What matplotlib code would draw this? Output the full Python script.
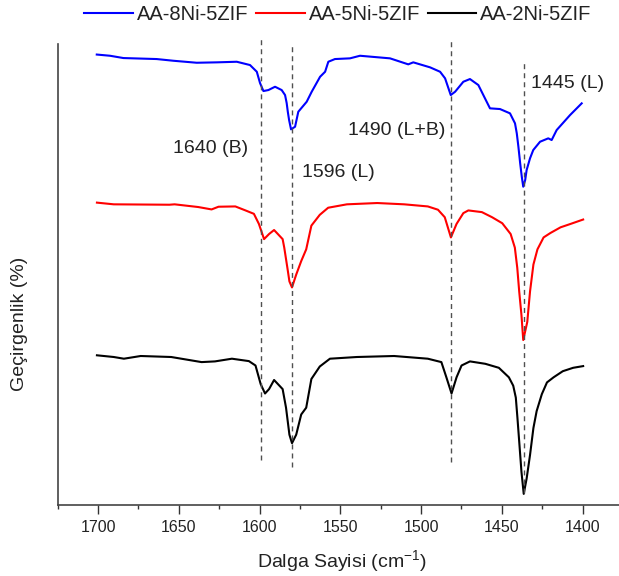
import matplotlib
matplotlib.use("Agg")
import matplotlib.pyplot as plt

plt.rcParams["font.family"] = ["Liberation Sans", "DejaVu Sans"]
plt.rcParams["mathtext.fontset"] = "custom"
plt.rcParams["mathtext.rm"] = "Liberation Sans"
plt.rcParams["mathtext.it"] = "Liberation Sans:italic"

# FTIR spectra (arbitrary transmittance units, stacked)
wn_8ni = [1700.8, 1692.6, 1684.3, 1663.7, 1653.4, 1638.9, 1626.5, 1614.1, 1605.9,
          1601.7, 1599.7, 1597.6, 1594.5, 1590.4, 1586.3, 1584.2, 1583.2, 1582.5,
          1581.7, 1580.5, 1578.0, 1576.0, 1570.8, 1567.7, 1562.5, 1559.4, 1557.4,
          1553.3, 1544.0, 1537.8, 1519.2, 1507.9, 1504.8, 1494.4, 1488.2, 1485.1,
          1481.6, 1478.9, 1473.8, 1469.7, 1464.5, 1460.4, 1457.3, 1451.1, 1444.9,
          1441.8, 1440.7, 1439.7, 1438.6, 1437.6, 1436.7, 1435.5, 1434.6, 1432.5,
          1430.5, 1426.3, 1421.2, 1419.1, 1416.0, 1407.7, 1400.5]
t_8ni = [450.5, 449.3, 447.0, 446.0, 444.3, 442.3, 442.7, 443.3, 440.0,
         433.3, 422.0, 414.0, 415.0, 418.3, 415.0, 410.0, 402.0, 393.3,
         385.0, 375.7, 378.3, 393.3, 403.3, 413.3, 428.3, 433.3, 443.3,
         446.0, 446.7, 449.3, 446.7, 440.7, 442.7, 437.7, 433.3, 426.7,
         410.0, 413.3, 423.3, 426.0, 420.0, 406.7, 396.7, 396.0, 391.7,
         381.7, 371.7, 358.3, 341.7, 328.3, 318.3, 325.0, 335.0, 346.7,
         355.0, 363.3, 366.7, 365.0, 375.0, 390.0, 401.7]

wn_5ni = [1700.7, 1690.3, 1655.8, 1652.6, 1638.0, 1629.7, 1625.4, 1615.0, 1608.7,
          1603.5, 1600.4, 1597.2, 1594.1, 1591.0, 1585.7, 1584.7, 1582.6, 1581.5,
          1579.9, 1577.3, 1574.2, 1571.1, 1567.9, 1562.7, 1557.5, 1545.9, 1527.1,
          1510.4, 1495.8, 1489.5, 1485.3, 1481.5, 1478.0, 1473.8, 1470.7, 1462.3,
          1456.0, 1449.7, 1444.5, 1441.9, 1440.4, 1439.2, 1437.8, 1436.7, 1434.2,
          1432.5, 1430.4, 1427.9, 1424.1, 1419.9, 1413.6, 1407.4, 1399.6]
t_5ni = [302.4, 300.7, 300.3, 300.7, 298.0, 295.6, 298.3, 298.6, 294.6,
         291.2, 281.1, 265.9, 271.0, 275.0, 265.9, 257.4, 235.5, 223.6,
         217.6, 230.4, 243.9, 255.7, 279.4, 290.2, 297.3, 300.7, 302.0,
         300.7, 298.6, 295.3, 287.8, 267.6, 281.1, 291.9, 294.6, 292.9,
         287.8, 281.8, 271.0, 257.4, 237.2, 213.5, 189.9, 165.0, 183.1,
         213.5, 240.5, 255.7, 267.6, 272.0, 277.7, 281.1, 285.5]

wn_2ni = [1700.7, 1690.3, 1684.0, 1673.6, 1654.7, 1635.9, 1627.6, 1617.1, 1606.6,
          1602.5, 1599.3, 1596.6, 1594.1, 1591.0, 1585.7, 1583.6, 1581.5, 1579.9,
          1577.3, 1574.2, 1571.1, 1567.9, 1562.7, 1556.4, 1539.7, 1516.7, 1495.8,
          1487.4, 1484.3, 1481.1, 1478.0, 1474.9, 1469.7, 1460.2, 1451.8, 1445.6,
          1442.9, 1441.3, 1440.3, 1439.2, 1437.8, 1436.4, 1434.6, 1432.5, 1430.4,
          1428.4, 1425.2, 1422.0, 1417.9, 1412.2, 1405.8, 1399.6]
t_2ni = [149.7, 148.0, 146.3, 149.0, 148.0, 142.9, 143.6, 146.3, 143.9,
         139.5, 120.9, 111.5, 115.9, 125.0, 115.9, 97.3, 70.3, 61.8,
         70.3, 90.5, 97.3, 126.0, 138.5, 146.3, 148.0, 149.0, 146.3,
         142.9, 127.7, 111.5, 127.7, 139.5, 143.6, 141.2, 137.2, 127.7,
         119.3, 107.4, 87.2, 63.5, 33.1, 11.1, 26.4, 50.0, 77.0,
         93.9, 110.8, 122.6, 127.7, 133.8, 137.2, 138.9]

series_names = ["AA-8Ni-5ZIF", "AA-5Ni-5ZIF", "AA-2Ni-5ZIF"]
series_colors = ["#0000ff", "#ff0000", "#000000"]

# band markers: position, lower end, upper end
band_pos = [1599.3, 1579.6, 1481.2, 1436.5]
band_low = [45.0, 38.0, 43.0, 12.0]
band_high = [468.0, 461.0, 466.0, 442.0]

band_labels = ["1640 (B)", "1596 (L)", "1490 (L+B)", "1445 (L)"]
label_x = [1606.8, 1573.6, 1484.7, 1432.0]
label_y = [357.0, 333.0, 375.0, 422.0]
label_ha = ["right", "left", "right", "left"]

fig = plt.figure(figsize=(6.19, 5.76), dpi=100)
ax = fig.add_axes([0.0932, 0.1233, 0.9068, 0.7997])

for wn, t, name, color in zip([wn_8ni, wn_5ni, wn_2ni], [t_8ni, t_5ni, t_2ni],
                              series_names, series_colors):
    ax.plot(wn, t, color=color, lw=1.5, label=name, solid_joinstyle="round")

ax.vlines(band_pos, band_low, band_high, colors="#505050", lw=1.0,
          linestyles=(0, (3.6, 2.9)), clip_on=False, zorder=3)

for s, x, y, ha in zip(band_labels, label_x, label_y, label_ha):
    ax.text(x, y, s, ha=ha, va="center", fontsize=14, color="#222222")

ax.set_xlim(1725, 1377.4)
ax.set_ylim(0, 460.7)
ax.set_xticks([1700, 1650, 1600, 1550, 1500, 1450, 1400])
ax.set_xticks([1725, 1675, 1625, 1575, 1525, 1475, 1425], minor=True)
ax.set_yticks([])
ax.tick_params(axis="x", which="major", length=6.5, width=1.0, pad=4,
               labelsize=11.5, colors="#333333", labelcolor="#222222")
ax.tick_params(axis="x", which="minor", length=3.2, width=1.0, colors="#333333")
for side in ["top", "right"]:
    ax.spines[side].set_visible(False)
for side in ["left", "bottom"]:
    ax.spines[side].set_color("#444444")
    ax.spines[side].set_linewidth(1.2)

fig.text(0.553, 1 - 561 / 576, "Dalga Sayisi (cm$^{-1}$)", ha="center", va="center",
         fontsize=14, color="#222222")
fig.text(20 / 619, 1 - 324 / 576, "Geçirgenlik (%)", rotation=90, ha="center",
         va="center", fontsize=14, color="#222222")

fig.legend(loc="center", bbox_to_anchor=(0.546, 1 - 15 / 576), ncol=3, frameon=False,
           fontsize=14.5, handlelength=2.4, handletextpad=0.2, columnspacing=0.4,
           labelcolor="#222222")

fig.savefig("out.png", dpi=100)
